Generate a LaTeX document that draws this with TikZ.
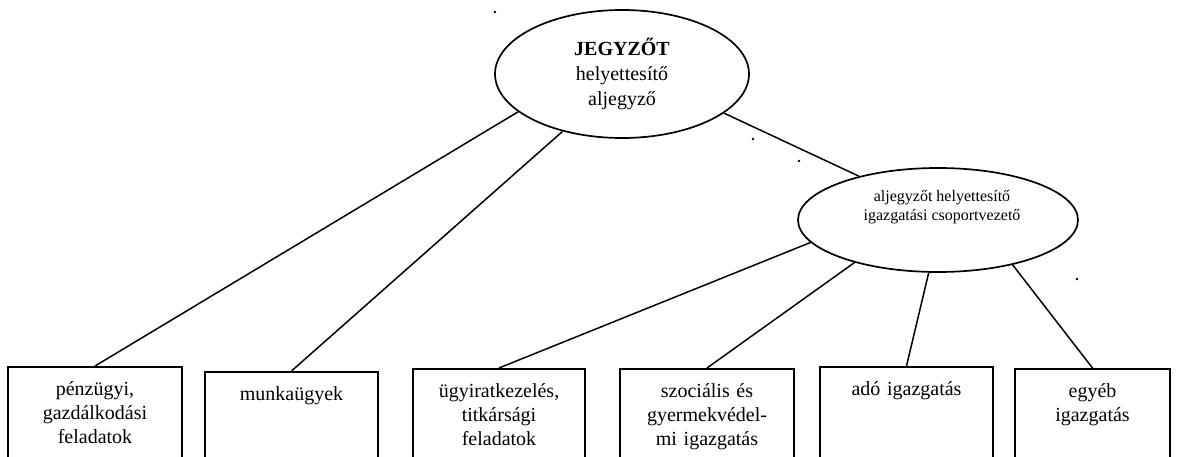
\documentclass[tikz,border=0pt]{standalone}
\usepackage{fontspec}
\setmainfont{Liberation Serif}
\usetikzlibrary{shapes.geometric}

\tikzset{
  unitbox/.style={draw, line width=1.9pt, anchor=north, text width=174pt, align=center,
    inner xsep=0pt, inner ysep=12pt, text height=17pt, text depth=80pt,
    font=\fontsize{20}{24}\selectfont},
  leadoval/.style={draw, ellipse, line width=1.7pt, inner sep=0pt},
  link/.style={line width=1.5pt}
}

\begin{document}
\begin{tikzpicture}[x=1pt, y=-1pt]
  % page frame: units in pixels, y grows downwards
  \path[use as bounding box, clip] (0,0) rectangle (1178,457);
  % ============= leaders =============
  \node[leadoval, minimum width=254pt, minimum height=128pt, align=center,
        font=\fontsize{20}{25}\selectfont] (jegyzo) at (622,74)
        {\textbf{JEGYZŐT}\\helyettesítő\\aljegyző};
  \node[leadoval, minimum width=280pt, minimum height=104pt] (csopvez) at (938,220) {};
  \node[align=center, inner sep=0pt, font=\fontsize{16}{19}\selectfont] (csopvez text)
        at (942,207) {aljegyzőt helyettesítő\\igazgatási csoportvezető};
  % ============= units (cut off by the page bottom) =============
  \node[unitbox] (penzugy) at (95,366) {pénzügyi,\\gazdálkodási\\feladatok};
  \node[unitbox, text width=173pt] (munka) at (291.5,371) {munkaügyek};
  \node[unitbox, text width=172pt] (ugyirat) at (499,368) {ügyiratkezelés,\\titkársági\\feladatok};
  \node[unitbox] (szocialis) at (707,368) {szociális és\\gyermekvédel-\\mi igazgatás};
  \node[unitbox, text width=173pt] (ado) at (906.5,366) {adó igazgatás};
  \node[unitbox, text width=155pt] (egyeb) at (1092.5,368) {egyéb\\igazgatás};
  % ============= connectors =============
  \draw[link] (jegyzo.200) -- (penzugy.north);
  \draw[link] (jegyzo.224) -- (munka.north);
  \draw[link] (jegyzo.339) -- (csopvez.151);
  \draw[link] (csopvez.190) -- (ugyirat.north);
  \draw[link] (csopvez.207) -- (szocialis.north);
  \draw[link] (csopvez.260) -- (ado.north);
  \draw[link] (csopvez.329) -- (egyeb.north);
  % stray dots
  \foreach \px/\py in {495/12, 753/139, 799/161, 1077/279}
    \fill (\px,\py) circle (1.3pt);
\end{tikzpicture}
\end{document}
